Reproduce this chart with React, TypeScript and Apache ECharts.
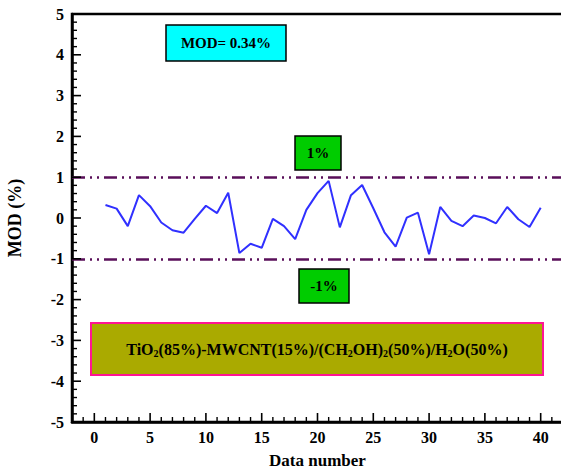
import React, { useEffect, useRef } from "react";
import * as echarts from "echarts";

const dataNumbers = [1, 2, 3, 4, 5, 6, 7, 8, 9, 10, 11, 12, 13, 14, 15, 16, 17, 18, 19, 20, 21, 22, 23, 24, 25, 26, 27, 28, 29, 30, 31, 32, 33, 34, 35, 36, 37, 38, 39, 40];
const modValues = [0.32, 0.23, -0.2, 0.56, 0.29, -0.11, -0.3, -0.36, -0.02, 0.3, 0.12, 0.62, -0.86, -0.63, -0.73, -0.02, -0.2, -0.52, 0.2, 0.61, 0.91, -0.23, 0.56, 0.81, 0.24, -0.35, -0.7, 0.01, 0.13, -0.89, 0.27, -0.07, -0.2, 0.06, 0.0, -0.13, 0.27, -0.03, -0.22, 0.25];
const limitValues = [1, -1];
const xMajorTicks = [0, 5, 10, 15, 20, 25, 30, 35, 40];
const xRange = [-2, 42];
const yRange = [-5, 5];
const xMinorStep = 1;
const yMinorStep = 0.2;

const FONT = "Liberation Serif";

export default function App() {
  const ref = useRef<HTMLDivElement>(null);
  useEffect(() => {
    if (!ref.current) return;
    const chart = echarts.init(ref.current, null, { renderer: "svg" });
    const labelStyle = { fontFamily: FONT, fontWeight: "bold" as const, fontSize: 16, color: "#000" };

    const xMajor: number[][] = [];
    const xMinor: number[][] = [];
    for (let v = xRange[0]; v <= xRange[1] + 1e-9; v += xMinorStep) {
      const r = Math.round(v);
      (xMajorTicks.includes(r) ? xMajor : xMinor).push([r, yRange[0]]);
    }
    const yMajor: number[][] = [];
    const yMinor: number[][] = [];
    for (let k = 0; k <= Math.round((yRange[1] - yRange[0]) / yMinorStep); k++) {
      const v = Math.round((yRange[0] + k * yMinorStep) * 10) / 10;
      (Math.abs(v - Math.round(v)) < 1e-6 ? yMajor : yMinor).push([xRange[0], v]);
    }
    const tickSeries = (data: number[][], size: number[], offset: number[]) => ({
      type: "scatter",
      data,
      symbol: "rect",
      symbolSize: size,
      symbolOffset: offset,
      clip: false,
      silent: true,
      z: 10,
      itemStyle: { color: "#000", opacity: 1 },
      emphasis: { disabled: true },
    });

    chart.setOption({
      animation: false,
      backgroundColor: "#fff",
      textStyle: { fontFamily: FONT },
      grid: { left: 72, top: 14, width: 491, height: 408, outerBoundsMode: "none", containLabel: false, show: true, borderColor: "#000", borderWidth: 2.5, backgroundColor: "transparent" },
      xAxis: {
        type: "value", min: xRange[0], max: xRange[1], interval: 1, position: "bottom",
        name: "Data number", nameLocation: "middle", nameGap: 30,
        nameTextStyle: { fontFamily: FONT, fontWeight: "bold", fontSize: 17, color: "#000" },
        axisLine: { show: true, onZero: false, lineStyle: { color: "#000", width: 2.5 } },
        axisTick: { show: false },
        axisLabel: { ...labelStyle, margin: 7, interval: 0, formatter: (v: number) => (xMajorTicks.includes(v) ? String(v) : "") },
        splitLine: { show: false },
      },
      yAxis: {
        type: "value", min: yRange[0], max: yRange[1], interval: 1,
        name: "MOD (%)", nameLocation: "middle", nameGap: 48,
        nameTextStyle: { fontFamily: FONT, fontWeight: "bold", fontSize: 18, color: "#000" },
        axisLine: { show: true, onZero: false, lineStyle: { color: "#000", width: 2.5 } },
        axisTick: { show: false },
        axisLabel: { ...labelStyle, margin: 8 },
        splitLine: { show: false },
      },
      series: [
        {
          type: "line",
          data: dataNumbers.map((x, i) => [x, modValues[i]]),
          showSymbol: false,
          symbol: "none",
          lineStyle: { color: "#3030ff", width: 2 },
          markLine: {
            silent: true,
            symbol: ["none", "none"],
            label: { show: false },
            lineStyle: { color: "#5a0f5a", width: 2.5, type: [13, 5, 2, 5, 2, 5] },
            data: limitValues.map((v) => ({ yAxis: v })),
          },
        },
        tickSeries(xMajor, [1.6, 9], [0, -4.5]),
        tickSeries(xMinor, [1.4, 5], [0, -2.5]),
        tickSeries(yMajor, [9, 1.6], [4.5, 0]),
        tickSeries(yMinor, [5, 1.4], [2.5, 0]),
      ],
      graphic: [
        { type: "rect", shape: { x: 166, y: 25, width: 120, height: 36 }, style: { fill: "#00ffff", stroke: "#000", lineWidth: 1.5 } },
        { type: "text", x: 226, y: 43, style: { text: "MOD= 0.34%", fontFamily: FONT, fontWeight: "bold", fontSize: 15, fill: "#000", align: "center", verticalAlign: "middle" } },
        { type: "rect", shape: { x: 295, y: 136, width: 46, height: 34 }, style: { fill: "#00cc00", stroke: "#000", lineWidth: 1.5 } },
        { type: "text", x: 318, y: 153, style: { text: "1%", fontFamily: FONT, fontWeight: "bold", fontSize: 15, fill: "#000", align: "center", verticalAlign: "middle" } },
        { type: "rect", shape: { x: 299, y: 269, width: 50, height: 34 }, style: { fill: "#00cc00", stroke: "#000", lineWidth: 1.5 } },
        { type: "text", x: 324, y: 286, style: { text: "-1%", fontFamily: FONT, fontWeight: "bold", fontSize: 15, fill: "#000", align: "center", verticalAlign: "middle" } },
        { type: "rect", shape: { x: 91, y: 323, width: 452, height: 52 }, style: { fill: "#aaaa00", stroke: "#ff1493", lineWidth: 2 } },
        {
          type: "text", x: 317, y: 349,
          style: {
            text: "TiO{s|2}(85%)-MWCNT(15%)/(CH{s|2}OH){s|2}(50%)/H{s|2}O(50%)",
            fontFamily: FONT, fontWeight: "bold", fontSize: 16, fill: "#000",
            align: "center", verticalAlign: "middle",
            rich: { s: { fontFamily: FONT, fontWeight: "bold", fontSize: 10, fill: "#000", padding: [8, 0, 0, 0] } },
          },
        },
      ],
    });
    return () => chart.dispose();
  }, []);
  return <div ref={ref} style={{ position: "fixed", left: 0, top: 0, width: 561, height: 471 }} />;
}
